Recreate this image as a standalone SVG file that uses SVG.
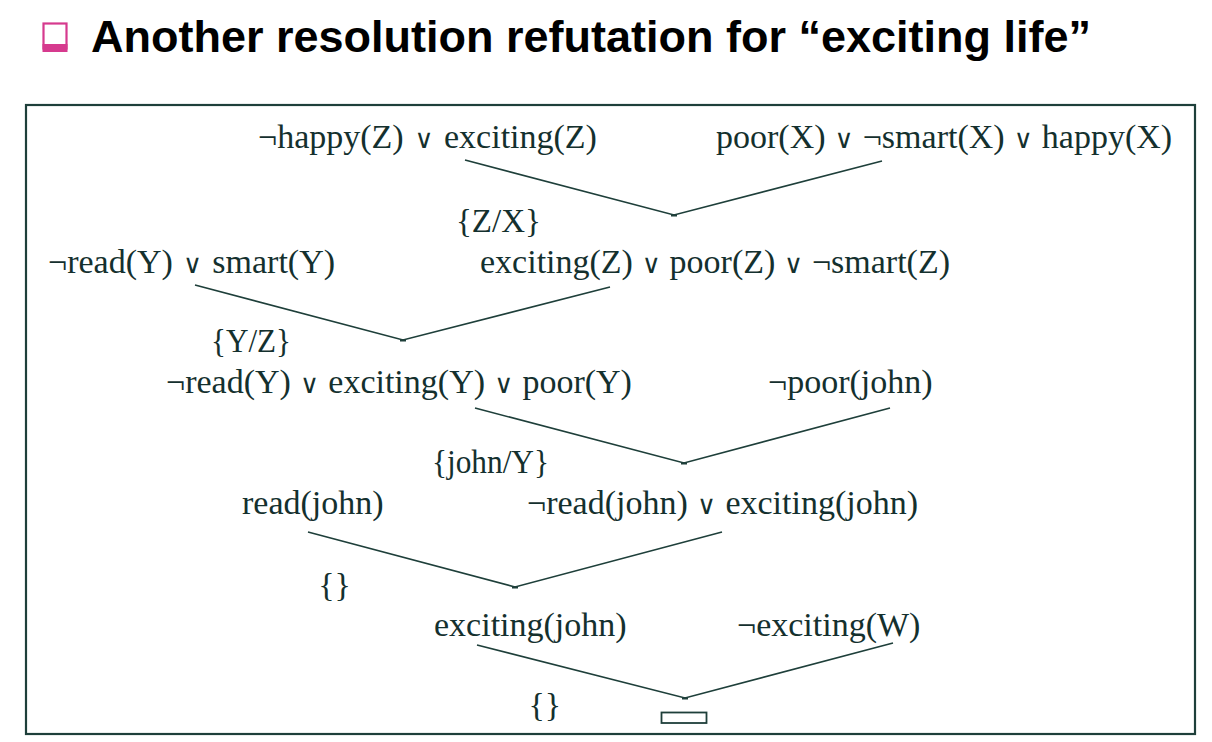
<svg xmlns="http://www.w3.org/2000/svg" width="1212" height="742" viewBox="0 0 1212 742">
<style>
.t{font-family:"Liberation Serif","Times New Roman",serif;font-size:34px;fill:#14302e}
.or{font-family:"DejaVu Serif",serif;font-size:26px}
.title{font-family:"Liberation Sans",Arial,sans-serif;font-size:45px;font-weight:bold;fill:#000}
.ln{fill:none;stroke:#1e3f3a;stroke-width:1.6;stroke-linejoin:miter}
.frame{fill:none;stroke:#1e3f3a;stroke-width:2.2}
</style>
<rect width="1212" height="742" fill="#fff"/>
<g id="title">
<rect x="43.5" y="23.5" width="23" height="25" fill="none" stroke="#d63a8e" stroke-width="2.2"/>
<rect x="42.5" y="44" width="25" height="8" fill="#d63a8e"/>
<text class="title" x="91" y="52">Another resolution refutation for “exciting life”</text>
</g>
<rect id="frame" class="frame" x="26" y="105" width="1169" height="629"/>
<g id="connectors">
<polyline class="ln" points="465,160 674,215 882,161"/>
<polyline class="ln" points="195,285 403,340 610,287"/>
<polyline class="ln" points="475,408 684,463 890,408"/>
<polyline class="ln" points="308,532 515,587 722,532"/>
<polyline class="ln" points="477,645 685,698 893,643"/>
<rect x="671" y="214" width="6" height="2.5" fill="#1e3f3a"/>
<rect x="400" y="339" width="6" height="2.5" fill="#1e3f3a"/>
<rect x="681" y="462" width="6" height="2.5" fill="#1e3f3a"/>
<rect x="512" y="586" width="6" height="2.5" fill="#1e3f3a"/>
<rect x="682" y="697" width="6" height="2.5" fill="#1e3f3a"/>
</g>
<g id="n1"><text class="t" y="148"><tspan x="258">¬happy(Z)</tspan><tspan class="or" x="423.9" text-anchor="middle">∨</tspan><tspan x="444">exciting(Z)</tspan></text></g>
<g id="n2"><text class="t" y="148"><tspan x="716">poor(X)</tspan><tspan class="or" x="844.1" text-anchor="middle">∨</tspan><tspan x="862.7">¬smart(X)</tspan><tspan class="or" x="1023.2" text-anchor="middle">∨</tspan><tspan x="1041.8">happy(X)</tspan></text></g>
<g id="s1"><text class="t" x="456" y="232" textLength="85" lengthAdjust="spacingAndGlyphs">{Z/X}</text></g>
<g id="n3"><text class="t" y="273"><tspan x="48">¬read(Y)</tspan><tspan class="or" x="192.6" text-anchor="middle">∨</tspan><tspan x="212.3">smart(Y)</tspan></text></g>
<g id="n4"><text class="t" y="273"><tspan x="480">exciting(Z)</tspan><tspan class="or" x="651.3" text-anchor="middle">∨</tspan><tspan x="669.6">poor(Z)</tspan><tspan class="or" x="793.6" text-anchor="middle">∨</tspan><tspan x="811.9">¬smart(Z)</tspan></text></g>
<g id="s2"><text class="t" x="211" y="352" textLength="80" lengthAdjust="spacingAndGlyphs">{Y/Z}</text></g>
<g id="n5"><text class="t" y="393"><tspan x="166">¬read(Y)</tspan><tspan class="or" x="309.6" text-anchor="middle">∨</tspan><tspan x="328.3">exciting(Y)</tspan><tspan class="or" x="503.7" text-anchor="middle">∨</tspan><tspan x="522.4">poor(Y)</tspan></text></g>
<g id="n6"><text class="t" x="768" y="393">¬poor(john)</text></g>
<g id="s3"><text class="t" x="432" y="473" textLength="117" lengthAdjust="spacingAndGlyphs">{john/Y}</text></g>
<g id="n7"><text class="t" x="242" y="514">read(john)</text></g>
<g id="n8"><text class="t" y="514"><tspan x="527">¬read(john)</tspan><tspan class="or" x="706.6" text-anchor="middle">∨</tspan><tspan x="725.4">exciting(john)</tspan></text></g>
<g id="s4"><text class="t" x="318.3 330 334.5" y="596">{ }</text></g>
<g id="n9"><text class="t" x="434" y="636">exciting(john)</text></g>
<g id="n10"><text class="t" x="737" y="636">¬exciting(W)</text></g>
<g id="s5"><text class="t" x="528.6 540 544.7" y="716">{ }</text></g>
<g id="empty"><rect x="661.5" y="712.5" width="45" height="10.5" fill="none" stroke="#1e3f3a" stroke-width="1.8"/></g>
</svg>
